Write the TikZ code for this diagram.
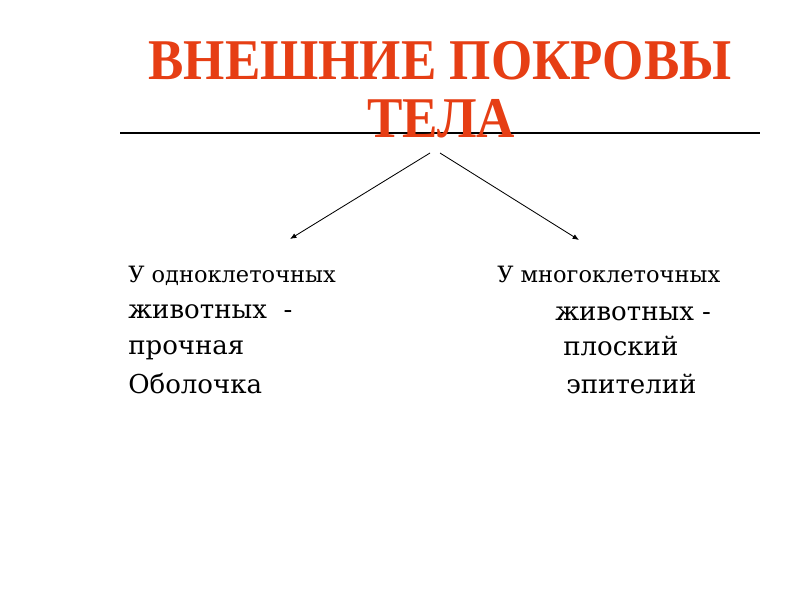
\documentclass[tikz,border=0pt]{standalone}
\usepackage{fontspec}
\setmainfont{DejaVu Serif}
\newfontfamily\titlefont[FakeStretch=0.92]{Liberation Serif}
\usetikzlibrary{arrows.meta}
\definecolor{titlered}{RGB}{230,62,20}
\tikzset{
  heading/.style={font=\titlefont\bfseries\fontsize{41}{41}\selectfont,text=titlered,inner sep=0pt,anchor=base},
  item/.style={font=\fontsize{18.5}{18.5}\selectfont,inner sep=0pt,anchor=base west},
  firstitem/.style={item,font=\fontsize{16}{16}\selectfont}
}
\tikzset{branch/.style={line width=0.6pt,-{Latex[length=1.6mm,width=1.3mm]}}}
\begin{document}
\begin{tikzpicture}[x=0.025cm,y=-0.025cm]
\useasboundingbox (0,0) rectangle (800,600);
\coordinate (l1) at (120,133);
\coordinate (l2) at (760,133);
\draw[line width=0.8pt] (l1)--(l2);

\node[heading] (t1) at (440,79) {ВНЕШНИЕ ПОКРОВЫ};
\node[heading] (t2) at (441,137) {ТЕЛА};

\coordinate (s1) at (430,153);
\coordinate (s2) at (440,153);
\coordinate (e1) at (290,239);
\coordinate (e2) at (579,240);
\draw[branch] (s1)--(e1);
\draw[branch] (s2)--(e2);

\node[firstitem] (a1) at (128,282) {У одноклеточных};
\node[item] (a2) at (128,318) {животных \ -};
\node[item] (a3) at (128,354) {прочная};
\node[item] (a4) at (128,393) {Оболочка};

\node[firstitem] (b1) at (497,282) {У многоклеточных};
\node[item] (b2) at (555,320) {животных -};
\node[item] (b3) at (563,355) {плоский};
\node[item] (b4) at (566,393) {эпителий};
\end{tikzpicture}
\end{document}
